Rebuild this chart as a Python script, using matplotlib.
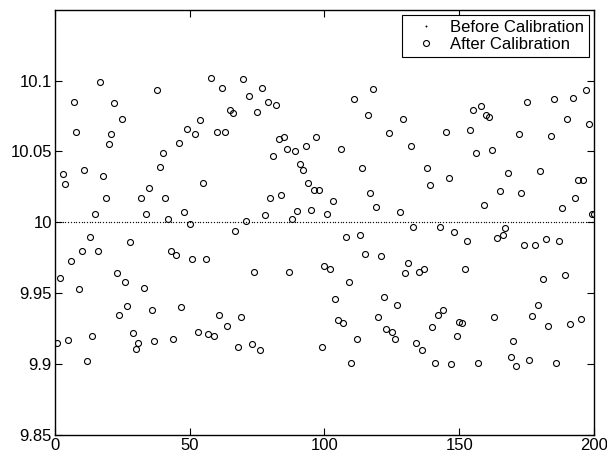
import numpy as np
import matplotlib
matplotlib.use("Agg")
import matplotlib.pyplot as plt

plt.rcParams['font.family'] = ['Liberation Sans', 'DejaVu Sans']

sample_index = list(range(1, 201))
before_calibration = [10.0] * 200
after_calibration = [
    9.915, 9.961, 10.034, 10.027, 9.917, 9.973, 10.085, 10.064, 9.953, 9.980,
    10.037, 9.902, 9.990, 9.920, 10.006, 9.980, 10.099, 10.033, 10.017, 10.055,
    10.062, 10.084, 9.964, 9.935, 10.073, 9.958, 9.941, 9.986, 9.922, 9.911,
    9.915, 10.017, 9.954, 10.006, 10.024, 9.938, 9.916, 10.093, 10.039, 10.049,
    10.017, 10.002, 9.980, 9.918, 9.977, 10.056, 9.940, 10.007, 10.066, 9.999,
    9.974, 10.062, 9.923, 10.072, 10.028, 9.974, 9.921, 10.102, 9.920, 10.064,
    9.935, 10.095, 10.064, 9.927, 10.079, 10.077, 9.994, 9.912, 9.933, 10.101,
    10.001, 10.089, 9.914, 9.965, 10.078, 9.910, 10.095, 10.005, 10.085, 10.017,
    10.047, 10.083, 10.059, 10.019, 10.060, 10.052, 9.965, 10.002, 10.050, 10.008,
    10.041, 10.037, 10.054, 10.028, 10.009, 10.023, 10.060, 10.023, 9.912, 9.969,
    10.006, 9.967, 10.015, 9.946, 9.931, 10.052, 9.929, 9.990, 9.958, 9.901,
    10.087, 9.918, 9.991, 10.038, 9.978, 10.076, 10.021, 10.094, 10.011, 9.933,
    9.976, 9.947, 9.925, 10.063, 9.923, 9.918, 9.942, 10.007, 10.073, 9.964,
    9.971, 10.054, 9.997, 9.915, 9.965, 9.910, 9.967, 10.038, 10.026, 9.926,
    9.901, 9.935, 9.997, 9.938, 10.064, 10.031, 9.900, 9.993, 9.920, 9.930,
    9.929, 9.967, 9.987, 10.065, 10.079, 10.049, 9.901, 10.082, 10.012, 10.076,
    10.074, 10.051, 9.933, 9.989, 10.022, 9.991, 9.996, 10.035, 9.905, 9.916,
    9.899, 10.062, 10.021, 9.984, 10.085, 9.903, 9.934, 9.984, 9.942, 10.036,
    9.960, 9.988, 9.927, 10.061, 10.087, 9.901, 9.987, 10.010, 9.963, 10.073,
    9.928, 10.088, 10.017, 10.030, 9.932, 10.030, 10.093, 10.069, 10.006, 10.006,
]
xticks = [0, 50, 100, 150, 200]
xticklabels = ['0', '50', '100', '150', '200']
yticks = [9.85, 9.9, 9.95, 10.0, 10.05, 10.1]
yticklabels = ['9.85', '9.9', '9.95', '10', '10.05', '10.1']

fig = plt.figure(figsize=(6.07, 4.57), dpi=100)
ax = fig.add_axes([0.09, 0.048, 0.889, 0.931])

ax.plot(sample_index, before_calibration, linestyle='none', marker='.',
        markersize=1.3, markeredgewidth=0.3, color='black',
        label='Before Calibration')
ax.plot(sample_index, after_calibration, linestyle='none', marker='o',
        markersize=4.3, markerfacecolor='none', markeredgecolor='black',
        markeredgewidth=0.8, label='After Calibration')

ax.set_xlim(0, 200)
ax.set_ylim(9.85, 10.15)
ax.set_xticks(xticks)
ax.set_xticklabels(xticklabels)
ax.set_yticks(yticks)
ax.set_yticklabels(yticklabels)
ax.tick_params(direction='in', length=5, width=0.8, top=True, right=True,
               labelsize=12, pad=2, colors='black')
for s in ax.spines.values():
    s.set_linewidth(1.0)

leg = ax.legend(loc='upper right', fontsize=12, numpoints=1, frameon=True,
                fancybox=False, edgecolor='black', framealpha=1,
                borderaxespad=0.3, handlelength=2.3, handletextpad=0.3,
                labelspacing=0.12, borderpad=0.3)
leg.get_frame().set_linewidth(0.8)
leg.legend_handles[0].set_markersize(2.0)

fig.savefig('out.png', dpi=100)
